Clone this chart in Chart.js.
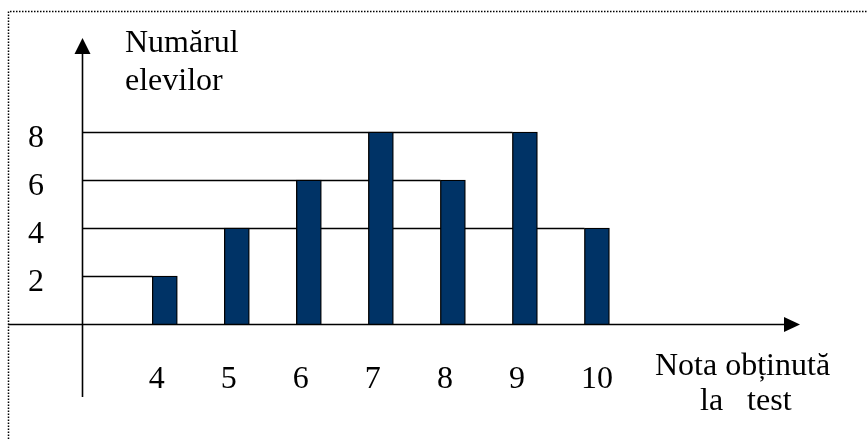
<!DOCTYPE html>
<html>
<head>
<meta charset="utf-8">
<script src="https://cdn.jsdelivr.net/npm/chart.js@4/dist/chart.umd.min.js"></script>
<style>
  html, body { margin: 0; padding: 0; background: #fff; }
  #wrap { width: 868px; height: 439px; }
</style>
</head>
<body>
<div id="wrap"><canvas id="chart" width="868" height="439"></canvas></div>
<script>
// Data
const grades = [4, 5, 6, 7, 8, 9, 10];
const pupils = [2, 4, 6, 8, 6, 8, 4];
const yTicks = [2, 4, 6, 8];
const yTitle = ["Numărul", "elevilor"];
const xTitle = ["Nota obținută", "la   test"];

const FONT = "32px 'Liberation Serif', 'Times New Roman', serif";

// Axes with arrows, staircase lines, labels and the dotted frame
const drawingPlugin = {
  id: "drawing",
  beforeDatasetsDraw(chart) {
    const { ctx, chartArea, scales } = chart;
    const meta = chart.getDatasetMeta(0);
    ctx.save();
    ctx.strokeStyle = "#000";
    ctx.lineWidth = 1.5;
    // level lines: from y axis to the last bar that reaches that exact value
    yTicks.forEach((t) => {
      const idx = pupils.lastIndexOf(t);
      if (idx < 0) return;
      const bar = meta.data[idx];
      const y = Math.round(scales.y.getPixelForValue(t)) + 0.5;
      ctx.beginPath();
      ctx.moveTo(chartArea.left, y);
      ctx.lineTo(bar.x - bar.width / 2, y);
      ctx.stroke();
    });
    ctx.restore();
  },
  afterDatasetsDraw(chart) {
    const { ctx, chartArea, scales } = chart;
    const x0 = chartArea.left + 0.5;
    const y0 = Math.round(scales.y.getPixelForValue(0)) + 0.5;
    ctx.save();
    ctx.strokeStyle = "#000";
    ctx.fillStyle = "#000";
    ctx.lineWidth = 1.6;

    // y axis
    ctx.beginPath();
    ctx.moveTo(x0, chartArea.bottom);
    ctx.lineTo(x0, chartArea.top + 14);
    ctx.stroke();
    ctx.beginPath();
    ctx.moveTo(x0, chartArea.top);
    ctx.lineTo(x0 - 8, chartArea.top + 16);
    ctx.lineTo(x0 + 8, chartArea.top + 16);
    ctx.closePath();
    ctx.fill();

    // x axis
    ctx.beginPath();
    ctx.moveTo(8, y0);
    ctx.lineTo(chartArea.right - 14, y0);
    ctx.stroke();
    ctx.beginPath();
    ctx.moveTo(chartArea.right, y0);
    ctx.lineTo(chartArea.right - 16, y0 - 7.5);
    ctx.lineTo(chartArea.right - 16, y0 + 7.5);
    ctx.closePath();
    ctx.fill();

    // tick labels
    ctx.font = FONT;
    ctx.textBaseline = "alphabetic";
    ctx.textAlign = "center";
    yTicks.forEach((t) => {
      ctx.fillText(String(t), 36, scales.y.getPixelForValue(t) + 15);
    });
    ctx.textAlign = "left";
    grades.forEach((g) => {
      ctx.fillText(String(g), scales.x.getPixelForValue(g) - 16, 388);
    });

    // axis titles
    ctx.fillText(yTitle[0], 125, 52);
    ctx.fillText(yTitle[1], 125, 90);
    ctx.fillText(xTitle[0], 655, 375);
    ctx.fillText(xTitle[1], 700, 410);

    // dotted frame (top and left edges)
    ctx.lineWidth = 1.5;
    ctx.strokeStyle = "#000";
    ctx.setLineDash([1.5, 1.5]);
    ctx.beginPath();
    ctx.moveTo(8.5, 439);
    ctx.lineTo(8.5, 11.5);
    ctx.lineTo(868, 11.5);
    ctx.stroke();
    ctx.restore();
  },
};

new Chart(document.getElementById("chart"), {
  type: "bar",
  data: {
    datasets: [
      {
        data: grades.map((g, i) => ({ x: g, y: pupils[i] })),
        backgroundColor: "#003366",
        borderColor: "#000",
        borderWidth: 1.3,
        barThickness: 25,
      },
    ],
  },
  options: {
    responsive: false,
    animation: false,
    devicePixelRatio: 1,
    layout: { padding: { left: 82, right: 68, top: 38, bottom: 42 } },
    plugins: { legend: { display: false }, tooltip: { enabled: false } },
    scales: {
      x: { type: "linear", min: 2.85, max: 12.82, offset: false, display: false },
      y: { min: -3.04, max: 11.92, display: false },
    },
  },
  plugins: [drawingPlugin],
});
</script>
</body>
</html>
